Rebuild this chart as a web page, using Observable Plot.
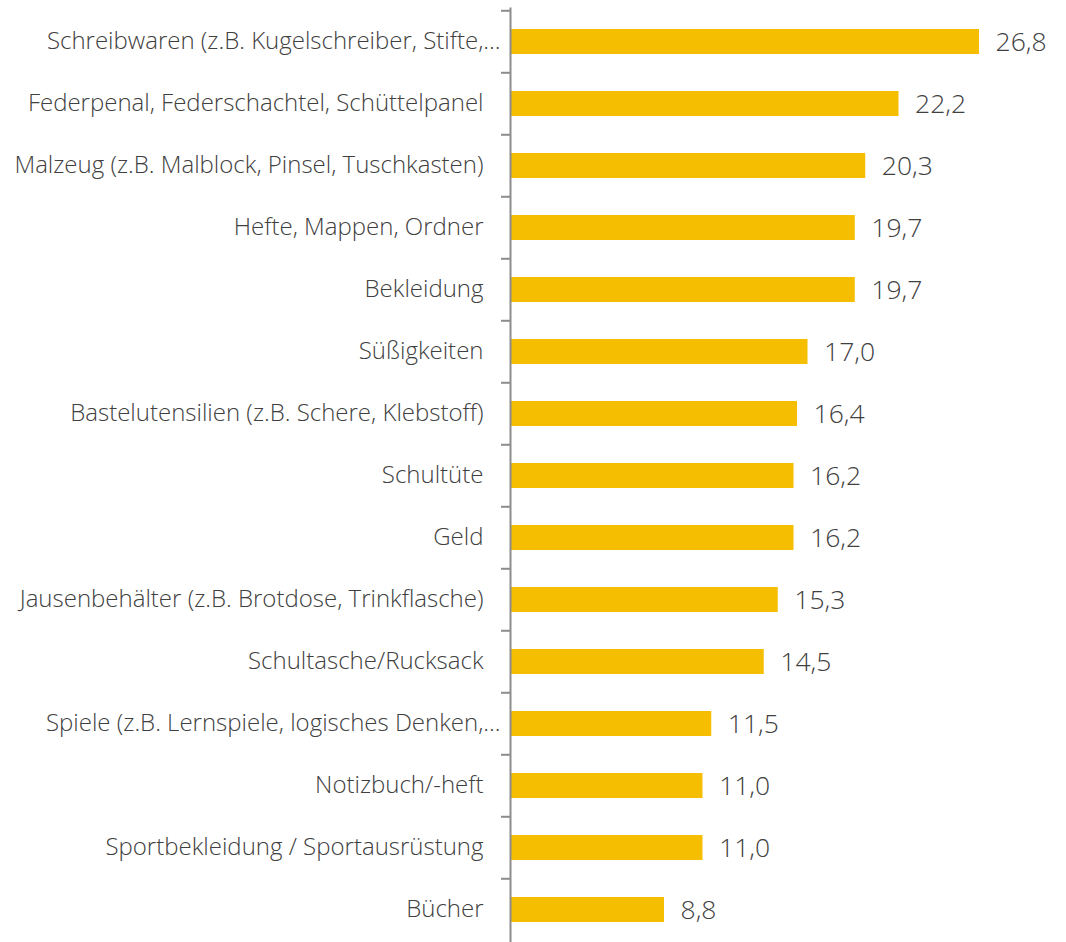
<!DOCTYPE html>
<html>
<head>
<meta charset="utf-8">
<script src="https://cdn.jsdelivr.net/npm/d3@7"></script>
<script src="https://cdn.jsdelivr.net/npm/@observablehq/plot@0.6"></script>
<style>
  html, body { margin: 0; padding: 0; background: #fff; }
  #chart svg { display: block; }
</style>
</head>
<body>
<div id="chart"></div>
<script>
const categories = [
  "Schreibwaren (z.B. Kugelschreiber, Stifte,...",
  "Federpenal, Federschachtel, Schüttelpanel",
  "Malzeug (z.B. Malblock, Pinsel, Tuschkasten)",
  "Hefte, Mappen, Ordner",
  "Bekleidung",
  "Süßigkeiten",
  "Bastelutensilien (z.B. Schere, Klebstoff)",
  "Schultüte",
  "Geld",
  "Jausenbehälter (z.B. Brotdose, Trinkflasche)",
  "Schultasche/Rucksack",
  "Spiele (z.B. Lernspiele, logisches Denken,...",
  "Notizbuch/-heft",
  "Sportbekleidung / Sportausrüstung",
  "Bücher"
];
const values = [26.8, 22.2, 20.3, 19.7, 19.7, 17.0, 16.4, 16.2, 16.2, 15.3, 14.5, 11.5, 11.0, 11.0, 8.8];

const data = categories.map((c, i) => ({category: c, value: values[i]}));
const truncated = data.filter(d => d.category.endsWith("..."));
const full = data.filter(d => !d.category.endsWith("..."));

const W = 1066, H = 942;
const mL = 510, mR = 87, mT = 7.5, mB = -2;
const step = (H - mT - mB) / categories.length;
const fmt = v => v.toFixed(1).replace(".", ",");
const font = "'Open Sans', sans-serif";
const textColor = "#404040";
const axisColor = "#8c8c8c";

const chart = Plot.plot({
  width: W,
  height: H,
  marginLeft: mL,
  marginRight: mR,
  marginTop: mT,
  marginBottom: mB,
  style: {fontFamily: font, background: "#fff", overflow: "hidden"},
  x: {domain: [0, 26.8], axis: null},
  y: {domain: categories, paddingInner: 0.6, paddingOuter: 0.3, axis: null},
  marks: [
    Plot.barX(data, {x: "value", y: "category", fill: "#F5BE00"}),
    Plot.ruleY(categories, {
      y: d => d, dy: -step / 2,
      insetLeft: -9, insetRight: W - mL - mR,
      stroke: axisColor, strokeWidth: 2
    }),
    Plot.ruleX([0], {stroke: axisColor, strokeWidth: 2}),
    Plot.text(full, {
      x: 0, y: "category", text: "category",
      textAnchor: "end", dx: -27, dy: -1,
      fontSize: 24, fontWeight: 300, fill: textColor
    }),
    Plot.text(truncated, {
      x: 0, y: "category", text: "category",
      textAnchor: "end", dx: -10, dy: -1,
      fontSize: 24, fontWeight: 300, fill: textColor
    }),
    Plot.text(data, {
      x: "value", y: "category", text: d => fmt(d.value),
      textAnchor: "start", dx: 16, dy: 1,
      fontSize: 26.5, fontWeight: 300, fill: textColor
    })
  ]
});
document.getElementById("chart").appendChild(chart);
</script>
</body>
</html>
